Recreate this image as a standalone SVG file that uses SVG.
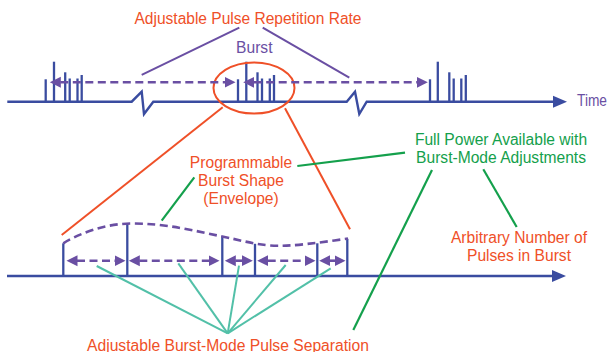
<svg xmlns="http://www.w3.org/2000/svg" width="612" height="352" viewBox="0 0 612 352">
<style>
text{font-family:"Liberation Sans",Arial,sans-serif;font-size:15.6px}
.or{fill:#ef5028}
.gr{fill:#14a04c}
.pu{fill:#6a4fa3}
.axis{fill:none;stroke:#3a4ca0;stroke-width:2.4;stroke-linejoin:miter}
.pulse{stroke:#3a4ca0;stroke-width:2.3}
.dash{fill:none;stroke:#6a4fa3;stroke-width:2.6;stroke-dasharray:8 4.5}
.lpu{stroke:#6a4fa3;stroke-width:2}
.lor{stroke:#ef5028;stroke-width:2;fill:none}
.lgr{stroke:#14a04c;stroke-width:2.2}
.lte{stroke:#52c0a8;stroke-width:2}
</style>
<defs>
<marker id="ah" viewBox="0 -6 12 12" refX="0.5" refY="0" markerWidth="12" markerHeight="12" markerUnits="userSpaceOnUse" orient="auto-start-reverse">
<path d="M0,-5.5 L11,0 L0,5.5 z" fill="#6a4fa3"/>
</marker>
</defs>

<g id="timeline-top">
<polyline class="axis" points="7.3,101.7 131.7,101.7 141.7,91.7 144,114 153.3,101.7 346.7,101.7 355,91.7 359.3,114 366.7,101.7 555,101.7"/>
<path d="M567,101.7 L553,95.7 L553,107.7 z" fill="#3a4ca0"/>
<g class="pulse">
<line x1="45.7" y1="101.7" x2="45.7" y2="79.3"/><line x1="54" y1="101.7" x2="54" y2="61.7"/><line x1="65.2" y1="101.7" x2="65.2" y2="72.3"/><line x1="69.7" y1="101.7" x2="69.7" y2="78.5"/><line x1="77.5" y1="101.7" x2="77.5" y2="78.5"/><line x1="81.7" y1="101.7" x2="81.7" y2="75"/>
<line x1="238" y1="101.7" x2="238" y2="79.3"/><line x1="246.3" y1="101.7" x2="246.3" y2="61.7"/><line x1="257.5" y1="101.7" x2="257.5" y2="72.3"/><line x1="262" y1="101.7" x2="262" y2="78.5"/><line x1="269.8" y1="101.7" x2="269.8" y2="78.5"/><line x1="274" y1="101.7" x2="274" y2="75"/>
<line x1="430" y1="101.7" x2="430" y2="79.3"/><line x1="437.8" y1="101.7" x2="437.8" y2="61.7"/><line x1="449.3" y1="101.7" x2="449.3" y2="72.3"/><line x1="453.7" y1="101.7" x2="453.7" y2="78.5"/><line x1="461.3" y1="101.7" x2="461.3" y2="78.5"/><line x1="465.8" y1="101.7" x2="465.8" y2="75"/>
</g>
</g>

<g id="timeline-bottom">
<line class="axis" x1="7" y1="276" x2="555" y2="276"/>
<path d="M566,276 L552,270 L552,282 z" fill="#3a4ca0"/>
<g class="pulse">
<line x1="63.3" y1="276" x2="63.3" y2="243.3"/><line x1="127.3" y1="276" x2="127.3" y2="223.8"/><line x1="222.3" y1="276" x2="222.3" y2="236.3"/><line x1="255" y1="276" x2="255" y2="243.8"/><line x1="317.3" y1="276" x2="317.3" y2="243.3"/><line x1="347.3" y1="276" x2="347.3" y2="238.8"/>
</g>
<path id="envelope" class="dash" d="M63.3,243.3 C80,233 105,224 130,223.5 C165,223 195,231 222.3,236.5 C240,240 252,244 270,245.5 C290,247 320,242.5 348,238.5"/>
</g>

<g id="burst-ellipse">
<ellipse cx="254" cy="88" rx="40.5" ry="25.5" class="lor" stroke-width="2.2"/>
</g>

<g id="connectors">
<line class="dash" x1="60.3" y1="82.3" x2="225" y2="82.3" marker-start="url(#ah)" marker-end="url(#ah)"/>
<line class="dash" x1="253.7" y1="82.3" x2="417.3" y2="82.3" marker-start="url(#ah)" marker-end="url(#ah)"/>
<line class="dash" x1="77" y1="260.7" x2="115" y2="260.7" marker-start="url(#ah)" marker-end="url(#ah)"/>
<line class="dash" x1="139.3" y1="260.7" x2="209" y2="260.7" marker-start="url(#ah)" marker-end="url(#ah)"/>
<line class="dash" x1="235.3" y1="260.7" x2="242.3" y2="260.7" marker-start="url(#ah)" marker-end="url(#ah)"/>
<line class="dash" x1="267.7" y1="260.7" x2="305" y2="260.7" marker-start="url(#ah)" marker-end="url(#ah)"/>
<line class="dash" x1="329.7" y1="260.7" x2="335" y2="260.7" marker-start="url(#ah)" marker-end="url(#ah)"/>
<line class="lpu" x1="239.3" y1="27.7" x2="141.7" y2="74.8"/>
<line class="lpu" x1="262.7" y1="27.7" x2="349.3" y2="77.6"/>
<line class="lor" x1="222.7" y1="107.3" x2="61.7" y2="235"/>
<line class="lor" x1="285" y1="108.3" x2="350" y2="229.3"/>
<line class="lgr" x1="297.3" y1="166" x2="405" y2="152.7"/>
<line class="lgr" x1="194.3" y1="177.3" x2="161.7" y2="220.7"/>
<line class="lgr" x1="432" y1="170" x2="353.3" y2="330"/>
<line class="lgr" x1="483.3" y1="169.3" x2="516.7" y2="227"/>
<line class="lte" x1="96.7" y1="266" x2="227.7" y2="333.3"/>
<line class="lte" x1="178.3" y1="263.3" x2="227.7" y2="333.3"/>
<line class="lte" x1="239" y1="265.7" x2="227.7" y2="333.3"/>
<line class="lte" x1="285.7" y1="265" x2="227.7" y2="333.3"/>
<line class="lte" x1="330.7" y1="268.3" x2="227.7" y2="333.3"/>
</g>

<g id="label-rate"><text class="or" x="248" y="24" text-anchor="middle" textLength="227" lengthAdjust="spacingAndGlyphs">Adjustable Pulse Repetition Rate</text></g>
<g id="label-burst"><text class="pu" x="254.3" y="52.7" text-anchor="middle">Burst</text></g>
<g id="label-time"><text class="pu" x="577" y="105.7" textLength="30" lengthAdjust="spacingAndGlyphs">Time</text></g>
<g id="label-shape">
<text class="or" x="241" y="168" text-anchor="middle">Programmable</text>
<text class="or" x="241" y="186" text-anchor="middle">Burst Shape</text>
<text class="or" x="241" y="203.5" text-anchor="middle">(Envelope)</text>
</g>
<g id="label-power">
<text class="gr" x="501" y="144.5" text-anchor="middle">Full Power Available with</text>
<text class="gr" x="501" y="162.5" text-anchor="middle">Burst-Mode Adjustments</text>
</g>
<g id="label-number">
<text class="or" x="519" y="243" text-anchor="middle">Arbitrary Number of</text>
<text class="or" x="519" y="260.5" text-anchor="middle">Pulses in Burst</text>
</g>
<g id="label-separation"><text class="or" x="228" y="350.5" text-anchor="middle" textLength="282" lengthAdjust="spacingAndGlyphs">Adjustable Burst-Mode Pulse Separation</text></g>
</svg>
